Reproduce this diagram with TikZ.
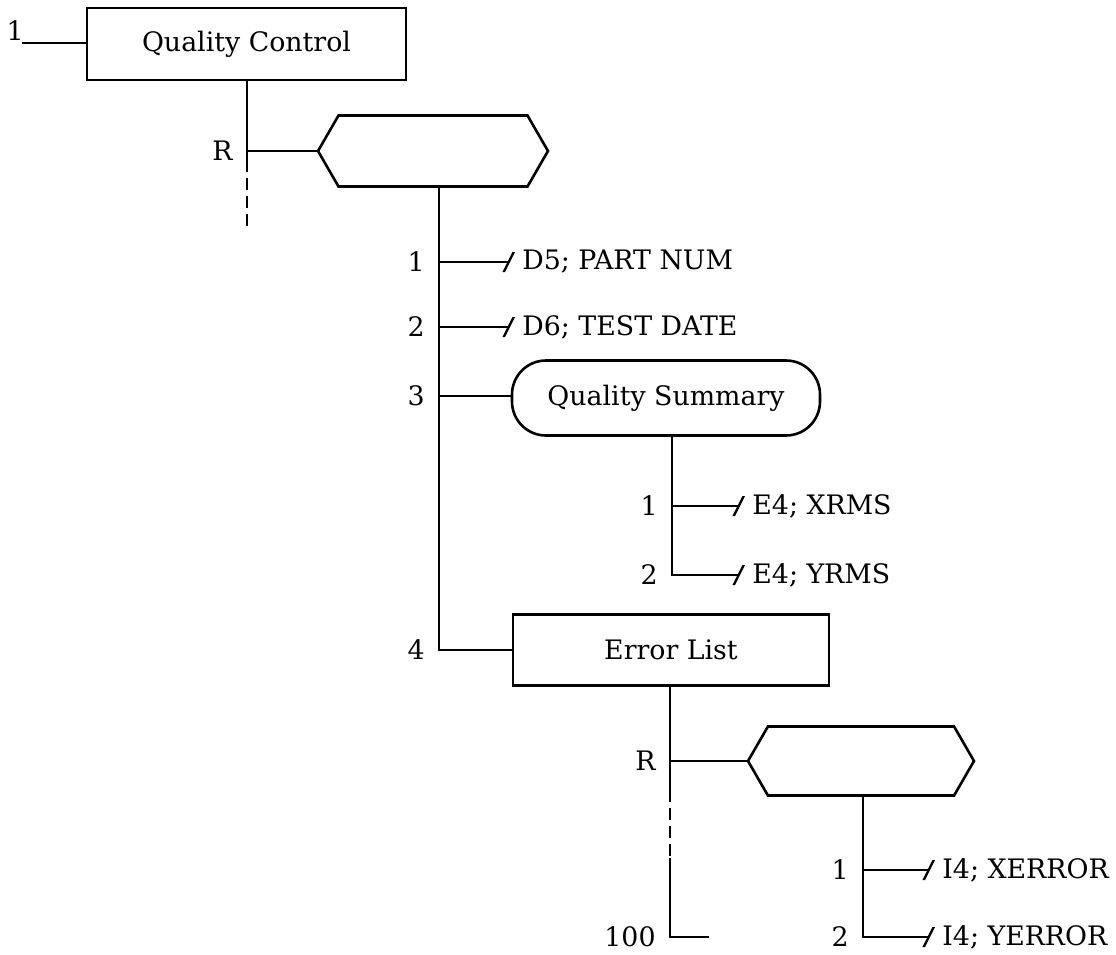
\documentclass[tikz,border=0pt]{standalone}
\usepackage{fontspec}
\setmainfont{DejaVu Serif}
\usetikzlibrary{arrows.meta,positioning,shapes.symbols}

\tikzset{
  chart/.style={line width=1.3pt},
  unitbox/.style={draw, line width=1.3pt, rectangle, inner sep=0pt},
  repbox/.style={draw, line width=1.3pt, signal, signal to=east and west,
    signal pointer angle=120, inner sep=0pt},
  sumbox/.style={draw, line width=1.3pt, rectangle, rounded corners=17pt, inner sep=0pt},
  num/.style={inner sep=2pt},
  leaf/.style={anchor=west, inner xsep=6pt, inner ysep=2pt},
  leafline/.style={-{Bar[width=10pt,slant=0.5,line width=1.3pt]}},
  gap/.style={dash pattern=on 6pt off 3pt},
}

\begin{document}
\begin{tikzpicture}[x=0.5pt,y=-0.5pt,font=\fontsize{13.4}{16}\selectfont]

        \useasboundingbox (0,0) rectangle (1116,955);

        % Top unit
        \node[unitbox, minimum width=159.5pt, minimum height=36pt] (qc) at (246.5,44) {Quality Control};
        \coordinate (c0) at (22,43);
        \node[num, above left=-1pt and -3pt of c0] (n0) {1};
        \draw[chart] (c0) -- (c0 -| qc.west);

        % Repeated group under the top unit
        \coordinate (r1) at (247,151);
        \coordinate (r1a) at (247,160);
        \coordinate (r1b) at (247,230);
        \node[repbox, minimum width=115pt, minimum height=35.5pt] (grp) at (433,151) {};
        \node[num, left=5pt of r1] {R};
        \draw[chart] (qc.south -| r1) -- (r1a);
        \draw[chart, gap] (r1a) -- (r1b);
        \draw[chart] (r1) -- (r1 -| grp.west);

        % Items of the group
        \coordinate (b1) at (439,262);
        \coordinate (b2) at (439,327);
        \coordinate (b3) at (439,396);
        \coordinate (b4) at (439,650);
        \node[num, left=5pt of b1] {1};
        \node[num, left=5pt of b2] {2};
        \node[num, left=5pt of b3] {3};
        \node[num, left=5pt of b4] {4};

        \node[leaf] (partnum) at (510,262) {D5; PART NUM};
        \node[leaf] (testdate) at (510,327) {D6; TEST DATE};
        \node[sumbox, minimum width=154pt, minimum height=37.5pt] (qsum) at (666,398) {Quality Summary};
        \node[unitbox, minimum width=158pt, minimum height=35.5pt] (elist) at (671,650) {Error List};

        \draw[chart] (grp.south -| b1) -- (b4) -- (b4 -| elist.west);
        \draw[chart, leafline] (b1) -- (partnum.west);
        \draw[chart, leafline] (b2) -- (testdate.west);
        \draw[chart] (b3) -- (b3 -| qsum.west);

        % Quality summary
        \coordinate (e1) at (672,506);
        \coordinate (e2) at (672,575);
        \node[num, left=5pt of e1] {1};
        \node[num, left=5pt of e2] {2};
        \node[leaf] (xrms) at (740,506) {E4; XRMS};
        \node[leaf] (yrms) at (740,575) {E4; YRMS};
        \draw[chart, leafline] (qsum.south -| e1) -- (e2) -- (yrms.west);
        \draw[chart, leafline] (e1) -- (xrms.west);

        % Error list, repeated up to 100
        \coordinate (r2) at (670,761);
        \coordinate (r2a) at (670,790);
        \coordinate (r2b) at (670,858);
        \coordinate (r2c) at (670,937);
        \coordinate (r2d) at (709,937);
        \node[repbox, minimum width=113pt, minimum height=34.5pt] (grp2) at (861,761) {};
        \node[num, left=5pt of r2] {R};
        \node[num, left=5pt of r2c] {100};
        \draw[chart] (elist.south -| r2) -- (r2a);
        \draw[chart, gap] (r2a) -- (r2b);
        \draw[chart] (r2b) -- (r2c) -- (r2d);
        \draw[chart] (r2) -- (r2 -| grp2.west);

        % Items of the error group
        \coordinate (i1) at (863,870);
        \coordinate (i2) at (863,937);
        \node[num, left=5pt of i1] {1};
        \node[num, left=5pt of i2] {2};
        \node[leaf] (xerr) at (930,870) {I4; XERROR};
        \node[leaf] (yerr) at (930,937) {I4; YERROR};
        \draw[chart, leafline] (grp2.south -| i1) -- (i2) -- (yerr.west);
        \draw[chart, leafline] (i1) -- (xerr.west);

    \end{tikzpicture}
\end{document}
